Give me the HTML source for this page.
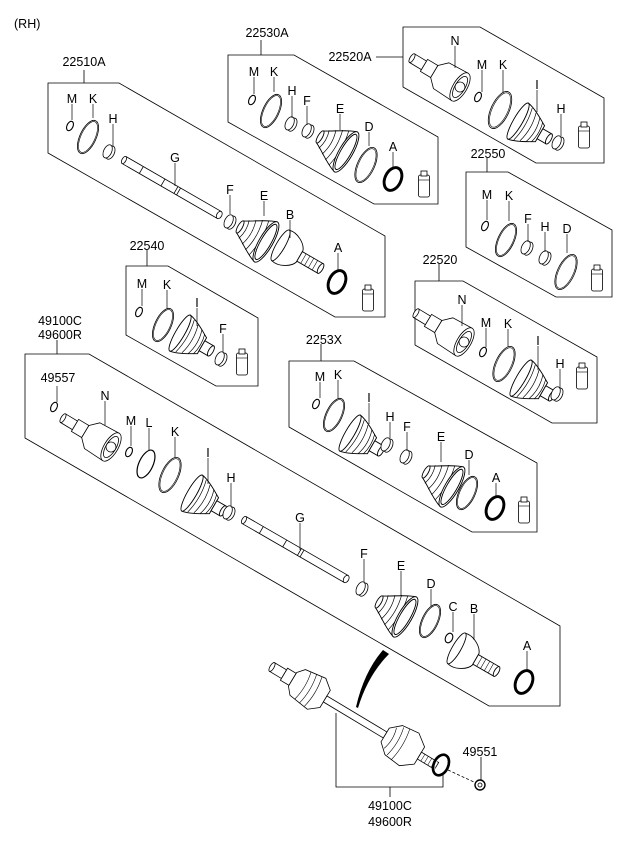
<!DOCTYPE html>
<html><head><meta charset="utf-8"><style>
html,body{margin:0;padding:0;background:#fff}
svg{display:block}
text{font-family:"Liberation Sans",sans-serif;font-size:12.5px;fill:#000}
</style></head><body>
<svg width="625" height="848" viewBox="0 0 625 848" xmlns="http://www.w3.org/2000/svg">
<defs>
 <g id="ring"><ellipse rx="9" ry="20" fill="none" stroke="#000" stroke-width="0.8" vector-effect="non-scaling-stroke"/><ellipse rx="7.8" ry="18.6" fill="none" stroke="#000" stroke-width="0.6" vector-effect="non-scaling-stroke"/></g>
 <g id="thick"><ellipse rx="8" ry="12" fill="none" stroke="#000" stroke-width="3"/><ellipse rx="6" ry="10" fill="none" stroke="#fff" stroke-width="0.8"/></g>
 <g id="sring"><ellipse cx="1.5" rx="4" ry="7" fill="#fff" stroke="#000" stroke-width="0.8"/><ellipse cx="-1.5" rx="4" ry="7" fill="#fff" stroke="#000" stroke-width="0.8"/></g>
 <g id="mring"><ellipse rx="3" ry="5" fill="none" stroke="#000" stroke-width="1.1"/></g>
 <g id="tube"><rect x="-5.5" y="-11" width="11" height="22" rx="2" fill="#fff" stroke="#000" stroke-width="0.8"/><rect x="-3" y="-15" width="6" height="5" fill="#fff" stroke="#000" stroke-width="0.8"/><line x1="-5.5" y1="-6" x2="5.5" y2="-6" stroke="#000" stroke-width="0.6"/></g>
 <g id="bootI" fill="#fff" stroke="#000" stroke-width="0.8">
  <path d="M-12,-18 C-4,-17 6,-10 10,-8 L10,8 C6,10 -4,17 -12,18 Z"/>
  <ellipse cx="-12" rx="4" ry="18"/>
  <path d="M-7,-16 Q-3,0 -7,16 M-2,-14 Q2,0 -2,14 M3,-12 Q7,0 3,12 M7,-10 Q10,0 7,10" fill="none" stroke-width="0.6"/>
  <rect x="10" y="-5" width="9" height="10"/><ellipse cx="19" rx="2" ry="5"/>
 </g>
 <g id="bootE" fill="#fff" stroke="#000" stroke-width="0.8">
  <path d="M-14,-6 C-6,-10 4,-18 12,-20 L12,20 C4,18 -6,10 -14,6 Z"/>
  <ellipse cx="-14" rx="2" ry="6"/>
  <path d="M-10,-9 Q-7,0 -10,9 M-5,-12 Q-1,0 -5,12 M0,-15 Q4,0 0,15 M5,-17 Q9,0 5,17" fill="none" stroke-width="0.6"/>
  <ellipse cx="12" rx="6" ry="20"/><ellipse cx="12" rx="4.5" ry="17.5"/>
 </g>
 <g id="joint" fill="#fff" stroke="#000" stroke-width="0.8">
  <rect x="-56" y="-5" width="14" height="10"/><ellipse cx="-56" rx="2" ry="5"/>
  <rect x="-42" y="-7" width="12" height="14"/>
  <path d="M-30,-7 L-22,-15 L0,-16 L0,16 L-22,15 L-30,7 Z"/>
  <ellipse cx="0" rx="7" ry="16"/><ellipse cx="0" rx="5" ry="12"/><circle cx="0" r="5"/>
 </g>
 <g id="outer" fill="#fff" stroke="#000" stroke-width="0.8">
  <path d="M-12,-16 C-4,-18 6,-12 8,-6 L8,6 C6,12 -4,18 -12,16 Z"/><ellipse cx="-12" rx="4" ry="16"/>
  <rect x="8" y="-5" width="22" height="10"/><path d="M12,-5 V5 M16,-5 V5 M20,-5 V5 M24,-5 V5" stroke-width="0.5"/><ellipse cx="30" rx="2" ry="5"/>
 </g>
</defs>
<g fill="none" stroke="#000" stroke-width="0.8">
 <polygon points="48,83 119,83 385,236 385,317 335,317 48,153"/>
 <polygon points="228,55 294,55 438,137 438,204 374,204 228,122"/>
 <polygon points="403,27 480,27 604,98 604,163 536,163 403,87"/>
 <polygon points="466,172 508,172 612,230 612,297 556,297 466,247"/>
 <polygon points="126,266 168,266 258,318 258,386 216,386 126,335"/>
 <polygon points="415,281 463,281 597,357 597,423 552,423 415,345"/>
 <polygon points="289,361 354,361 537,463 537,532 472,532 289,427"/>
 <polygon points="25,354 89,354 560,626 560,706 489,706 25,438"/>
 <path d="M84,70 V83 M261,40 V55 M376,57 H403 M487,158 V172 M147,250 V266 M439,264 V281 M321,344 V361 M57,340 V354"/>
 <path d="M336,713 V787 H443 V773 M390,787 V797 M481,757 V780"/>
 <path d="M448,770 L476,783" stroke-dasharray="3,2"/>
</g>
<g>
<text x="14" y="28">(RH)</text>
<text x="84" y="66" text-anchor="middle">22510A</text>
<text x="267" y="37" text-anchor="middle">22530A</text>
<text x="350" y="61" text-anchor="middle">22520A</text>
<text x="488" y="158" text-anchor="middle">22550</text>
<text x="147" y="250" text-anchor="middle">22540</text>
<text x="440" y="264" text-anchor="middle">22520</text>
<text x="324" y="344" text-anchor="middle">2253X</text>
<text x="60" y="325" text-anchor="middle">49100C</text>
<text x="60" y="339" text-anchor="middle">49600R</text>
<text x="58" y="382" text-anchor="middle">49557</text>
<text x="480" y="756" text-anchor="middle">49551</text>
<text x="390" y="810" text-anchor="middle">49100C</text>
<text x="390" y="826" text-anchor="middle">49600R</text>
</g>
<g stroke="#000" stroke-width="0.8" fill="#fff">
<use href="#mring" transform="translate(70,126) rotate(25)"/>
<use href="#ring" transform="translate(88,137) rotate(25) scale(0.9)"/>
<use href="#sring" transform="translate(109,152) rotate(25)"/>
<g transform="translate(124,160) rotate(30)"><rect x="0" y="-4" width="110" height="8"/><ellipse cx="0" rx="2" ry="4"/><ellipse cx="110" rx="2.5" ry="4"/><path d="M20,-4 V4 M45,-4 V4 M60,-4 V4 M63,-4 V4" fill="none"/></g>
<use href="#sring" transform="translate(230,222) rotate(25)"/>
<use href="#bootE" transform="translate(254,235) rotate(30) scale(1.15)"/>
<use href="#outer" transform="translate(292,252) rotate(30) scale(1.1)"/>
<use href="#thick" transform="translate(337,282) rotate(25)"/>
<use href="#tube" transform="translate(368,300)"/>
<use href="#mring" transform="translate(252,100) rotate(25)"/>
<use href="#ring" transform="translate(271,111) rotate(25) scale(0.9)"/>
<use href="#sring" transform="translate(291,124) rotate(25)"/>
<use href="#sring" transform="translate(308,131) rotate(25)"/>
<use href="#bootE" transform="translate(334,145) rotate(30) scale(1.15)"/>
<use href="#ring" transform="translate(366,165) rotate(25) scale(0.95)"/>
<use href="#thick" transform="translate(393,179) rotate(25)"/>
<use href="#tube" transform="translate(424,186)"/>
<use href="#joint" transform="translate(460,87) rotate(31)"/>
<use href="#mring" transform="translate(478,97) rotate(25)"/>
<use href="#ring" transform="translate(500,110) rotate(25) scale(1)"/>
<use href="#bootI" transform="translate(530,128) rotate(30) scale(1.15)"/>
<use href="#sring" transform="translate(558,143) rotate(25)"/>
<use href="#tube" transform="translate(584,137)"/>
<use href="#mring" transform="translate(485,226) rotate(25)"/>
<use href="#ring" transform="translate(506,240) rotate(25) scale(0.9)"/>
<use href="#sring" transform="translate(527,248) rotate(25)"/>
<use href="#sring" transform="translate(545,258) rotate(25)"/>
<use href="#ring" transform="translate(566,272) rotate(25) scale(0.95)"/>
<use href="#tube" transform="translate(597,280)"/>
<use href="#mring" transform="translate(139,312) rotate(25)"/>
<use href="#ring" transform="translate(163,325) rotate(25) scale(0.9)"/>
<use href="#bootI" transform="translate(192,340) rotate(30) scale(1.15)"/>
<use href="#sring" transform="translate(221,359) rotate(25)"/>
<use href="#tube" transform="translate(242,364)"/>
<use href="#joint" transform="translate(464,342) rotate(31)"/>
<use href="#mring" transform="translate(483,352) rotate(25)"/>
<use href="#ring" transform="translate(504,364) rotate(25) scale(0.95)"/>
<use href="#bootI" transform="translate(533,385) rotate(30) scale(1.15)"/>
<use href="#sring" transform="translate(557,394) rotate(25)"/>
<use href="#tube" transform="translate(582,378)"/>
<use href="#mring" transform="translate(316,404) rotate(25)"/>
<use href="#ring" transform="translate(334,415) rotate(25) scale(0.9)"/>
<use href="#bootI" transform="translate(362,440) rotate(30) scale(1.15)"/>
<use href="#sring" transform="translate(387,445) rotate(25)"/>
<use href="#sring" transform="translate(406,457) rotate(25)"/>
<use href="#bootE" transform="translate(440,480) rotate(30) scale(1.15)"/>
<use href="#ring" transform="translate(467,493) rotate(25) scale(0.9)"/>
<use href="#thick" transform="translate(495,508) rotate(25)"/>
<use href="#tube" transform="translate(524,512)"/>
<use href="#mring" transform="translate(54,407) rotate(25)"/>
<use href="#joint" transform="translate(111,447) rotate(31)"/>
<use href="#mring" transform="translate(129,452) rotate(25)"/>
<g transform="translate(146,464) rotate(25)"><ellipse rx="7" ry="15" fill="none" stroke-width="1.2"/></g>
<use href="#ring" transform="translate(170,475) rotate(25) scale(0.95)"/>
<use href="#bootI" transform="translate(204,500) rotate(30) scale(1.15)"/>
<use href="#sring" transform="translate(229,513) rotate(25)"/>
<g transform="translate(244,520) rotate(30)"><rect x="0" y="-4" width="118" height="8"/><ellipse cx="0" rx="2" ry="4"/><ellipse cx="118" rx="2.5" ry="4"/><path d="M20,-4 V4 M47,-4 V4 M64,-4 V4 M67,-4 V4" fill="none"/></g>
<use href="#sring" transform="translate(362,589) rotate(25)"/>
<use href="#bootE" transform="translate(393,610) rotate(30) scale(1.15)"/>
<use href="#ring" transform="translate(430,621) rotate(25) scale(0.9)"/>
<g transform="translate(449,638) rotate(25)"><ellipse rx="3.5" ry="5" fill="none" stroke-width="1.1"/></g>
<use href="#outer" transform="translate(468,655) rotate(30) scale(1.1)"/>
<use href="#thick" transform="translate(524,682) rotate(25)"/>
<g transform="translate(272,667) rotate(31)">
 <rect x="0" y="-5" width="14" height="10"/><ellipse cx="0" rx="2" ry="5"/>
 <rect x="14" y="-7" width="10" height="14"/>
 <path d="M24,-8 L30,-15 L52,-18 L62,-10 L62,10 L52,18 L30,15 L24,8 Z"/>
 <path d="M36,-16 Q40,0 36,16 M42,-17 Q46,0 42,17 M48,-17 Q52,0 48,17" fill="none" stroke-width="0.6"/>
 <rect x="62" y="-3.5" width="70" height="7"/>
 <path d="M132,-8 L142,-17 L160,-19 L172,-10 L172,10 L160,19 L142,17 L132,8 Z"/>
 <path d="M138,-12 Q142,0 138,12 M144,-16 Q148,0 144,16 M150,-18 Q154,0 150,18" fill="none" stroke-width="0.6"/>
 <rect x="172" y="-4" width="20" height="8"/><path d="M176,-4 V4 M180,-4 V4 M184,-4 V4 M188,-4 V4" fill="none" stroke-width="0.5"/>
</g>
<use href="#thick" transform="translate(441,765) rotate(25) scale(0.9)"/>
<g transform="translate(480,785)"><circle r="5" fill="#fff" stroke-width="1.4"/><circle r="2" fill="none"/></g>
</g>
<path d="M383,650 L389,654 Q368,675 358,708 L356,707 Q364,672 383,650 Z" fill="#000"/>
<g>
<g stroke="#000" stroke-width="0.7" fill="none">
 <path d="M72,104 V120 M93,104 V118 M113,124 V146 M175,163 V186 M230,195 V214 M264,201 V216 M290,220 V238 M338,253 V270"/>
 <path d="M254,77 V94 M274,77 V92 M292,96 V118 M307,106 V125 M340,114 V130 M369,132 V146 M393,152 V167"/>
 <path d="M455,46 V68 M482,70 V92 M503,70 V92 M537,90 V112 M561,114 V136"/>
 <path d="M487,200 V220 M509,201 V221 M528,224 V242 M545,232 V252 M567,234 V253"/>
 <path d="M142,289 V306 M167,290 V308 M197,308 V326 M223,334 V352"/>
 <path d="M462,305 V326 M486,328 V347 M508,329 V347 M538,346 V370 M560,369 V388"/>
 <path d="M320,382 V398 M338,380 V398 M369,403 V424 M390,422 V438 M407,432 V451 M441,442 V462 M469,460 V475 M496,483 V497"/>
 <path d="M57,386 V402 M105,401 V425 M131,426 V446 M149,428 V450 M175,437 V457 M208,458 V484 M231,483 V506 M300,523 V550 M364,559 V582 M401,571 V596 M431,589 V606 M453,612 V632 M474,614 V640 M527,651 V670"/>
</g>
<g text-anchor="middle">
<text x="72" y="103">M</text><text x="93" y="103">K</text><text x="113" y="123">H</text><text x="175" y="162">G</text><text x="230" y="194">F</text><text x="264" y="200">E</text><text x="290" y="219">B</text><text x="338" y="252">A</text>
<text x="254" y="76">M</text><text x="274" y="76">K</text><text x="292" y="95">H</text><text x="307" y="105">F</text><text x="340" y="113">E</text><text x="369" y="131">D</text><text x="393" y="151">A</text>
<text x="455" y="45">N</text><text x="482" y="69">M</text><text x="503" y="69">K</text><text x="537" y="89">I</text><text x="561" y="113">H</text>
<text x="487" y="199">M</text><text x="509" y="200">K</text><text x="528" y="223">F</text><text x="545" y="231">H</text><text x="567" y="233">D</text>
<text x="142" y="288">M</text><text x="167" y="289">K</text><text x="197" y="307">I</text><text x="223" y="333">F</text>
<text x="462" y="304">N</text><text x="486" y="327">M</text><text x="508" y="328">K</text><text x="538" y="345">I</text><text x="560" y="368">H</text>
<text x="320" y="381">M</text><text x="338" y="379">K</text><text x="369" y="402">I</text><text x="390" y="421">H</text><text x="407" y="431">F</text><text x="441" y="441">E</text><text x="469" y="459">D</text><text x="496" y="482">A</text>
<text x="105" y="400">N</text><text x="131" y="425">M</text><text x="149" y="427">L</text><text x="175" y="436">K</text><text x="208" y="457">I</text><text x="231" y="482">H</text><text x="300" y="522">G</text><text x="364" y="558">F</text><text x="401" y="570">E</text><text x="431" y="588">D</text><text x="453" y="611">C</text><text x="474" y="613">B</text><text x="527" y="650">A</text>
</g>
</g>
</svg>
</body></html>
